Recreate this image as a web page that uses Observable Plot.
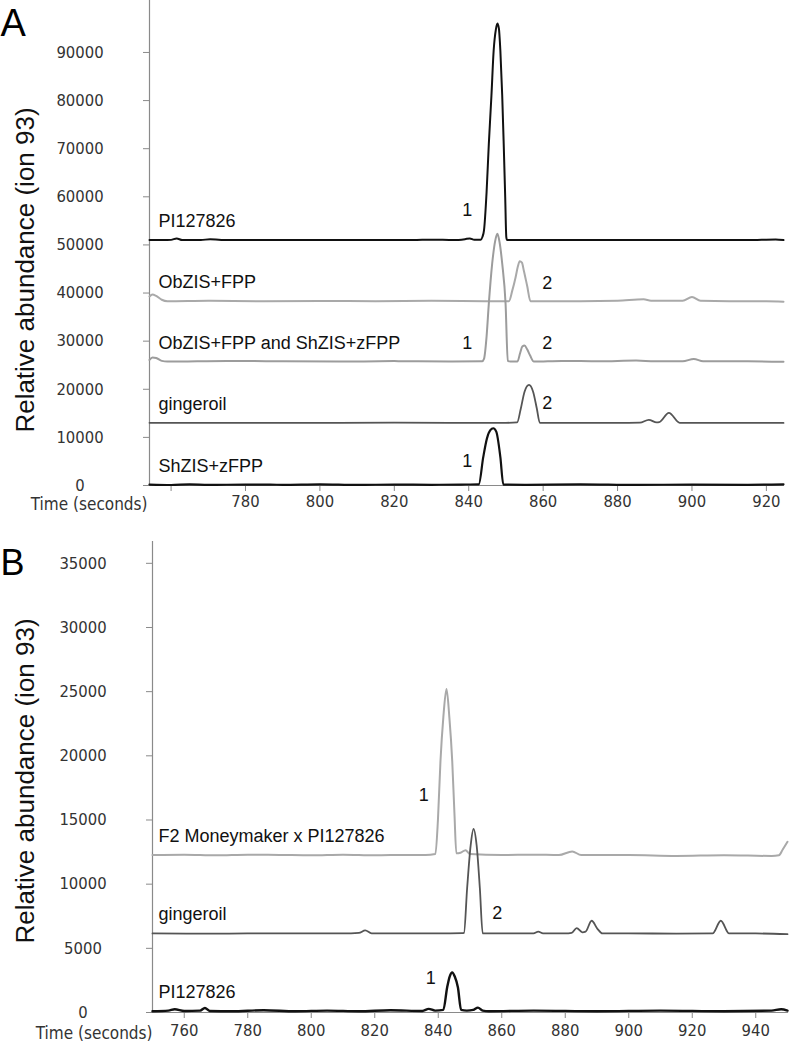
<!DOCTYPE html>
<html>
<head>
<meta charset="utf-8">
<script src="https://cdn.jsdelivr.net/npm/d3@7"></script>
<script src="https://cdn.jsdelivr.net/npm/@observablehq/plot@0.6"></script>
<style>
  html, body { margin: 0; padding: 0; background: #fff; }
  #chart { width: 796px; }
  #chart svg { display: block; }
</style>
</head>
<body>
<div id="chart"></div>
<script>
// ---------------- Panel A data ----------------
const panelALetter = "A";
const aXDomain = [754.2, 924.6];
const aYDomain = [0, 100800];
const aYTicks = [0, 10000, 20000, 30000, 40000, 50000, 60000, 70000, 80000, 90000];
const aXTicks = [760, 780, 800, 820, 840, 860, 880, 900, 920];
const aXTickLabels = ["", "780", "800", "820", "840", "860", "880", "900", "920"];

const aSeriesNames = ["PI127826", "ObZIS+FPP", "ObZIS+FPP and ShZIS+zFPP", "gingeroil", "ShZIS+zFPP"];
const aSeriesBaselines = [51000, 38300, 25770, 13030, 150];
const aSeriesColors = ["#111111", "#a9a9a9", "#9c9c9c", "#555555", "#111111"];

const aPI_t = [754.2, 758, 760, 761.5, 763, 768, 770.5, 772, 774, 790, 810, 825, 830, 836, 839, 840.3, 841.5, 843.2, 843.7, 844.1, 844.8, 845.4, 846.1, 846.7, 847.3, 847.7, 848.1, 848.5, 849, 849.4, 849.8, 850.1, 850.3, 851, 860, 880, 900, 915, 922.5, 924.6];
const aPI_v = [51000, 51000, 51050, 51350, 51000, 51000, 51200, 51150, 51000, 51000, 51000, 51000, 51100, 51000, 51200, 51350, 51050, 51100, 51700, 53000, 61000, 71000, 81000, 90400, 94800, 96000, 95000, 90400, 81000, 71000, 60000, 51600, 51000, 51000, 51000, 51000, 51000, 51000, 51150, 51000];

const aOb_t = [754.2, 755, 756, 757.5, 759, 770, 785, 800, 815, 830, 845, 850.8, 851.7, 852.6, 853.2, 853.7, 854.3, 854.8, 855.7, 856.6, 857.5, 870, 880, 887, 889, 897.5, 900, 902.3, 910, 920, 924.6];
const aOb_v = [39300, 39700, 39400, 38600, 38300, 38400, 38300, 38350, 38300, 38400, 38300, 38300, 40500, 43300, 45500, 46600, 46300, 44700, 41500, 38300, 38300, 38300, 38400, 38700, 38400, 38400, 39200, 38400, 38300, 38300, 38200];

const aMix_t = [754.2, 755, 756, 757.5, 759, 775, 790, 805, 820, 835, 843.6, 844.1, 844.8, 845.4, 846.3, 847.1, 847.7, 848.3, 849, 849.9, 850.5, 851.2, 853.1, 853.8, 854.4, 855, 855.7, 856.5, 857.5, 865, 875, 885, 890, 897.5, 900.5, 903, 915, 924.6];
const aMix_v = [26100, 26600, 26500, 25900, 25770, 25900, 25800, 25750, 25850, 25770, 25800, 26300, 31000, 37800, 46100, 50800, 52300, 50500, 46100, 37800, 25900, 25770, 25770, 27500, 28900, 29100, 28300, 27000, 25770, 25900, 25800, 26000, 25800, 25800, 26300, 25800, 25800, 25700];

const aGin_t = [754.2, 790, 820, 835, 850, 853, 854, 855, 856.2, 857.3, 858.3, 859.1, 870, 880, 886, 888.4, 890.5, 891.2, 893.8, 896.7, 905, 924.6];
const aGin_v = [13030, 13000, 13050, 13000, 13030, 13100, 16000, 19500, 20900, 19500, 16000, 13030, 13030, 13000, 13050, 13650, 13100, 13150, 15100, 13030, 13030, 13000];

const aSh_t = [754.2, 760, 765, 770, 780, 790, 800, 810, 820, 830, 838, 842.7, 843.9, 844.9, 845.8, 846.6, 847.4, 848.5, 849.3, 855, 870, 885, 900, 915, 924.6];
const aSh_v = [200, 100, 250, 120, 200, 150, 250, 120, 200, 150, 200, 250, 5900, 9800, 11500, 11900, 11200, 5900, 200, 150, 250, 120, 200, 150, 250];

const aPeakLabels = ["1", "2", "1", "2", "2", "1"];
const aPeakT = [839.6, 861.1, 839.6, 861.1, 861.1, 839.6];
const aPeakV = [56100, 40900, 28400, 28400, 15900, 3800];

// ---------------- Panel B data ----------------
const panelBLetter = "B";
const bXDomain = [750, 950];
const bYDomain = [0, 36700];
const bYTicks = [0, 5000, 10000, 15000, 20000, 25000, 30000, 35000];
const bXTicks = [760, 780, 800, 820, 840, 860, 880, 900, 920, 940];

const bSeriesNames = ["F2 Moneymaker x PI127826", "gingeroil", "PI127826"];
const bSeriesBaselines = [12270, 6160, 100];
const bSeriesColors = ["#a9a9a9", "#555555", "#111111"];

const bF2_t = [750, 760, 770, 780, 790, 800, 810, 820, 830, 836, 839.1, 839.9, 840.7, 841.6, 842.6, 843.5, 844.4, 845.1, 845.7, 847, 848.6, 850, 860, 870, 878, 882.2, 885, 900, 915, 930, 945, 947.3, 948.5, 950];
const bF2_v = [12270, 12300, 12250, 12300, 12280, 12250, 12300, 12250, 12280, 12270, 12350, 15000, 19600, 23000, 25200, 23000, 19600, 15500, 12400, 12450, 12650, 12350, 12270, 12300, 12270, 12550, 12270, 12270, 12200, 12250, 12200, 12250, 12700, 13300];

const bGin_t = [750, 770, 790, 810, 815, 817, 819, 830, 840, 847.5, 848.1, 849.1, 850.2, 851.1, 852.1, 853.1, 854, 860, 870, 871.5, 873, 880, 882, 883.6, 885.4, 886.4, 888.3, 890.2, 891.7, 900, 915, 926.4, 929, 931.6, 940, 950];
const bGin_v = [6160, 6150, 6170, 6160, 6200, 6400, 6170, 6160, 6160, 6180, 6200, 9700, 13000, 14300, 13000, 9700, 6160, 6160, 6170, 6300, 6170, 6160, 6200, 6580, 6250, 6300, 7150, 6500, 6160, 6160, 6150, 6160, 7150, 6160, 6160, 6100];

const bPI_t = [750, 755, 757, 760, 765, 766.5, 768, 775, 785, 795, 805, 815, 825, 835, 837, 839, 841.6, 842.8, 843.6, 844.4, 845.2, 846.2, 847.2, 849, 851, 852.5, 854, 856, 870, 890, 910, 930, 945, 948, 950];
const bPI_v = [100, 150, 250, 120, 150, 350, 120, 100, 180, 100, 150, 100, 180, 120, 280, 150, 200, 1950, 2800, 3120, 2800, 1950, 200, 150, 200, 380, 150, 100, 150, 100, 150, 100, 150, 250, 150];

const bPeakLabels = ["1", "2", "1"];
const bPeakT = [835.4, 858.6, 837.6];
const bPeakV = [16450, 7280, 2210];

// ---------------- build tables ----------------
function toRows(name, ts, vs) { return ts.map((t, i) => ({series: name, t, v: vs[i]})); }
const aTraces = [
  toRows(aSeriesNames[0], aPI_t, aPI_v),
  toRows(aSeriesNames[1], aOb_t, aOb_v),
  toRows(aSeriesNames[2], aMix_t, aMix_v),
  toRows(aSeriesNames[3], aGin_t, aGin_v),
  toRows(aSeriesNames[4], aSh_t, aSh_v)
];
const aWidths = [2, 2, 2, 1.8, 2.2];
const bTraces = [
  toRows(bSeriesNames[0], bF2_t, bF2_v),
  toRows(bSeriesNames[1], bGin_t, bGin_v),
  toRows(bSeriesNames[2], bPI_t, bPI_v)
];
const bWidths = [2, 1.8, 2.4];

const tickFont = "'DejaVu Sans Condensed', 'DejaVu Sans', sans-serif";
const textFont = "'Liberation Sans', Arial, sans-serif";

function panel(cfg) {
  const marks = [
    Plot.frame({anchor: "left", stroke: "#8a8a8a", strokeWidth: 1.2}),
    Plot.frame({anchor: "bottom", stroke: "#8a8a8a", strokeWidth: 1.2}),
    Plot.axisY({ticks: cfg.yTicks, tickSize: 6, tickPadding: 63.5, textAnchor: "middle",
      tickFormat: d => String(d), stroke: "#8a8a8a", fill: "#333", fontSize: 16.5, fontFamily: tickFont, label: null}),
    Plot.axisX({ticks: cfg.xTicks, tickSize: 6, tickPadding: cfg.xPad,
      tickFormat: cfg.xFormat, stroke: "#8a8a8a", fill: "#333", fontSize: 16.5, fontFamily: tickFont, label: null}),
    Plot.text(["Time (seconds)"], {frameAnchor: "bottom-left", textAnchor: "end", lineAnchor: "top",
      dx: cfg.timeDx, dy: 8 + cfg.xPad, fontSize: 17, fontFamily: tickFont, fill: "#333"}),
    Plot.text(["Relative abundance (ion 93)"], {frameAnchor: "left", rotate: -90, textAnchor: "middle", lineAnchor: "middle",
      dx: cfg.titleDx, dy: cfg.titleDy, fontSize: 26, fontFamily: textFont, fill: "#111"}),
    Plot.text([cfg.letter], {frameAnchor: "top-left", textAnchor: "start", lineAnchor: "bottom",
      dx: cfg.letterDx, dy: cfg.letterDy, fontSize: cfg.letterSize, fontFamily: textFont, fill: "#000"})
  ];
  cfg.traces.forEach((rows, i) => {
    marks.push(Plot.line(rows, {x: "t", y: "v", stroke: cfg.colors[i], strokeWidth: cfg.widths[i], curve: "monotone-x"}));
  });
  marks.push(Plot.text(cfg.names.map((n, i) => ({n, v: cfg.baselines[i]})), {
    x: () => cfg.xDomain[0], y: "v", text: "n", textAnchor: "start", lineAnchor: "bottom",
    dx: cfg.labelDx, dy: -13, fontSize: 18, fontFamily: textFont, fill: "#111"}));
  marks.push(Plot.text(cfg.peakLabels.map((p, i) => ({p, t: cfg.peakT[i], v: cfg.peakV[i]})), {
    x: "t", y: "v", text: "p", textAnchor: "middle", lineAnchor: "bottom",
    fontSize: 18, fontFamily: textFont, fill: "#111"}));
  return Plot.plot({
    width: 796, height: cfg.height,
    marginLeft: cfg.marginLeft, marginRight: cfg.marginRight,
    marginTop: cfg.marginTop, marginBottom: cfg.marginBottom,
    x: {domain: cfg.xDomain},
    y: {domain: cfg.yDomain},
    style: {fontFamily: tickFont, background: "#fff", overflow: "visible"},
    marks
  });
}

const chart = document.getElementById("chart");
chart.appendChild(panel({
  letter: panelALetter, letterDx: -149, letterDy: 35, letterSize: 38,
  height: 518, marginLeft: 149, marginRight: 13, marginTop: 0, marginBottom: 33,
  xDomain: aXDomain, yDomain: aYDomain, yTicks: aYTicks, xTicks: aXTicks,
  xFormat: (d, i) => aXTickLabels[aXTicks.indexOf(d)], xPad: 4,
  timeDx: -2, titleDx: -124, titleDy: 27,
  traces: aTraces, colors: aSeriesColors, widths: aWidths,
  names: aSeriesNames, baselines: aSeriesBaselines, labelDx: 9,
  peakLabels: aPeakLabels, peakT: aPeakT, peakV: aPeakV
}));
chart.appendChild(panel({
  letter: panelBLetter, letterDx: -152, letterDy: 33, letterSize: 36,
  height: 538, marginLeft: 152, marginRight: 9, marginTop: 23, marginBottom: 44,
  xDomain: bXDomain, yDomain: bYDomain, yTicks: bYTicks, xTicks: bXTicks,
  xFormat: d => String(d), xPad: 6,
  timeDx: 0, titleDx: -127, titleDy: 4,
  traces: bTraces, colors: bSeriesColors, widths: bWidths,
  names: bSeriesNames, baselines: bSeriesBaselines, labelDx: 6,
  peakLabels: bPeakLabels, peakT: bPeakT, peakV: bPeakV
}));
</script>
</body>
</html>
